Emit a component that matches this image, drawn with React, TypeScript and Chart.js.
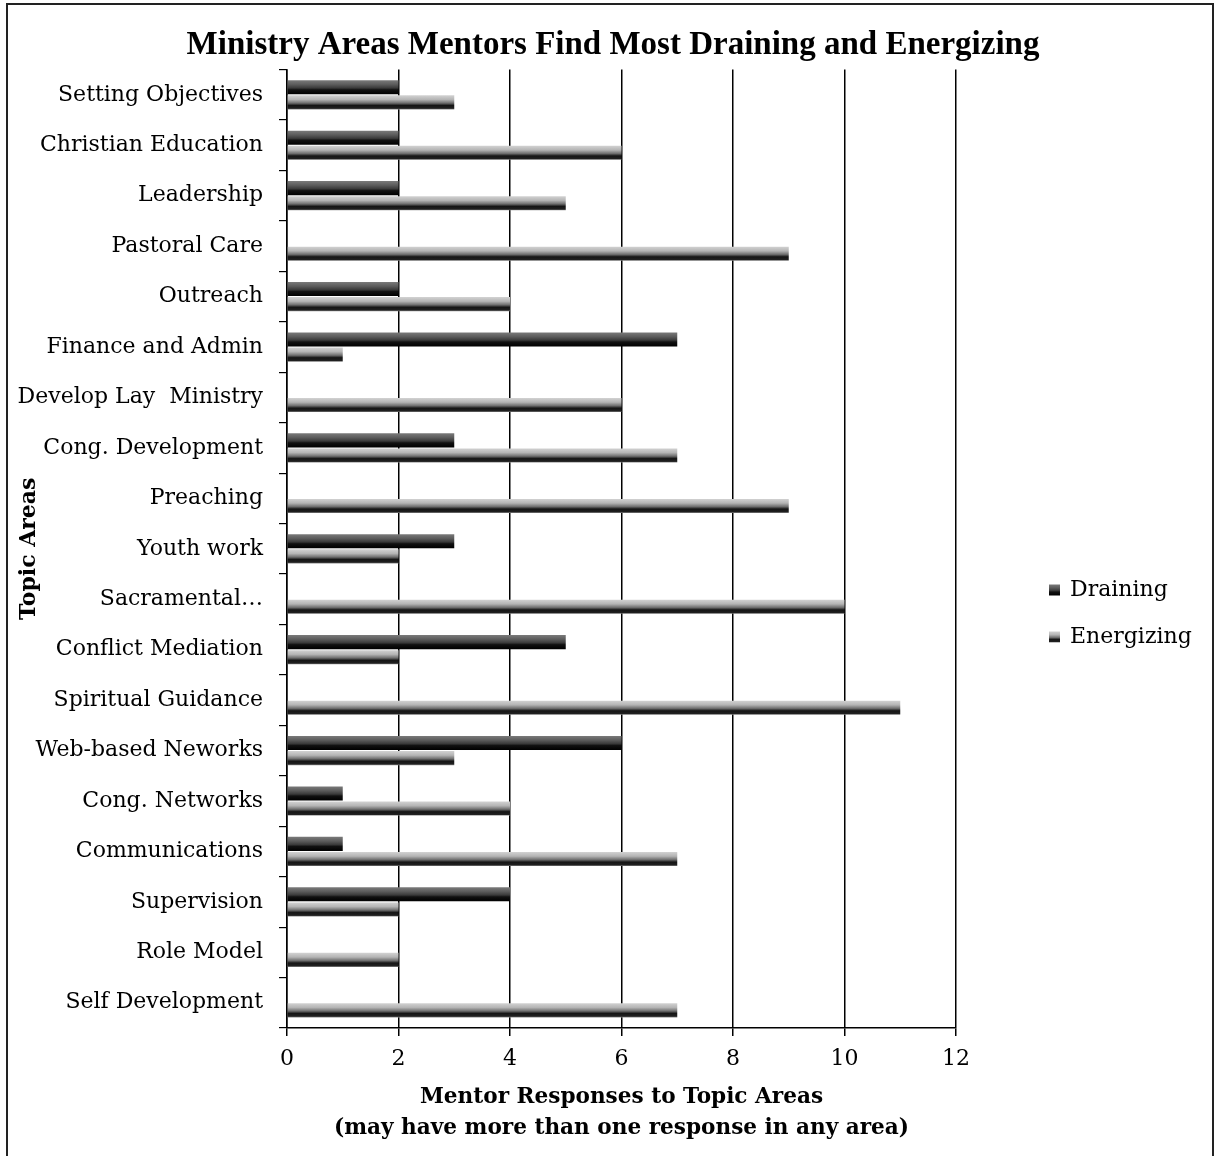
import { useEffect, useRef } from "react";
import { Chart, registerables } from "chart.js";

Chart.register(...registerables);

// Topic areas, top to bottom
const topics = [
  "Setting Objectives",
  "Christian Education",
  "Leadership",
  "Pastoral Care",
  "Outreach",
  "Finance and Admin",
  "Develop Lay  Ministry",
  "Cong. Development",
  "Preaching",
  "Youth work",
  "Sacramental…",
  "Conflict Mediation",
  "Spiritual Guidance",
  "Web-based Neworks",
  "Cong. Networks",
  "Communications",
  "Supervision",
  "Role Model",
  "Self Development",
];

// Mentor responses per topic
const draining = [2, 2, 2, 0, 2, 7, 0, 3, 0, 3, 0, 5, 0, 6, 1, 1, 4, 0, 0];
const energizing = [3, 6, 5, 9, 4, 1, 6, 7, 9, 2, 10, 2, 11, 3, 4, 7, 2, 2, 7];

const xTickValues = [0, 2, 4, 6, 8, 10, 12];

const SERIF = "'DejaVu Serif', serif";
const TITLE_SERIF = "'Liberation Serif', serif";

const CAT_PCT = 0.6;
const BAR_PCT = 0.93;

// vertical shading stops: dark mottled top with black base / light top with black band
const drainingStops: [number, string][] = [
  [0, "#7a7a7a"],
  [0.3, "#5c5c5c"],
  [0.55, "#3a3a3a"],
  [0.68, "#111111"],
  [1, "#000000"],
];
const energizingStops: [number, string][] = [
  [0, "#d2d2d2"],
  [0.3, "#b4b4b4"],
  [0.55, "#6e6e6e"],
  [0.72, "#151515"],
  [0.92, "#202020"],
  [1, "#8a8a8a"],
];

function barFill(stops: [number, string][]) {
  return (c: any) => {
    const chart = c.chart;
    const ys = chart.scales?.y;
    const area = chart.chartArea;
    if (!ys || !area || c.dataIndex === undefined || c.type !== "data") {
      return stops[2][1];
    }
    const center = ys.getPixelForValue(c.dataIndex);
    const band = (area.bottom - area.top) / topics.length;
    const group = band * CAT_PCT;
    const slot = group / 2;
    const thick = slot * BAR_PCT;
    const top = center - group / 2 + c.datasetIndex * slot + (slot - thick) / 2;
    const g = chart.ctx.createLinearGradient(0, top, 0, top + thick);
    stops.forEach(([o, col]) => g.addColorStop(o, col));
    return g;
  };
}

// legend drawn to the right of the plot
const LEGEND_X = 1049;
const LEGEND_Y = 590;
const LEGEND_GAP = 47;
const SWATCH = 11;

const sideLegend = {
  id: "sideLegend",
  afterDraw(chart: any) {
    const ctx = chart.ctx as CanvasRenderingContext2D;
    const stopsList = [drainingStops, energizingStops];
    ctx.save();
    chart.data.datasets.forEach((ds: any, i: number) => {
      const cy = LEGEND_Y + i * LEGEND_GAP;
      const top = cy - SWATCH / 2;
      const g = ctx.createLinearGradient(0, top, 0, top + SWATCH);
      stopsList[i].forEach(([o, col]) => g.addColorStop(o, col));
      ctx.fillStyle = g;
      ctx.fillRect(LEGEND_X, top, SWATCH, SWATCH);
      ctx.fillStyle = "#000";
      ctx.font = `22px ${SERIF}`;
      ctx.textAlign = "left";
      ctx.textBaseline = "middle";
      ctx.fillText(ds.label, LEGEND_X + 21, cy);
    });
    ctx.restore();
  },
};

export default function App() {
  const canvasRef = useRef<HTMLCanvasElement | null>(null);

  useEffect(() => {
    document.body.style.margin = "0";
    const canvas = canvasRef.current;
    if (!canvas) return;
    const chart = new Chart(canvas, {
      type: "bar",
      data: {
        labels: topics,
        datasets: [
          {
            label: "Draining",
            data: draining,
            backgroundColor: barFill(drainingStops),
            borderWidth: 0,
            categoryPercentage: CAT_PCT,
            barPercentage: BAR_PCT,
          },
          {
            label: "Energizing",
            data: energizing,
            backgroundColor: barFill(energizingStops),
            borderWidth: 0,
            categoryPercentage: CAT_PCT,
            barPercentage: BAR_PCT,
          },
        ],
      },
      options: {
        indexAxis: "y",
        responsive: false,
        animation: false,
        events: [],
        layout: { padding: { left: 8, right: 0, top: 0, bottom: 0 } },
        plugins: {
          legend: { display: false },
          tooltip: { enabled: false },
          title: {
            display: true,
            text: "Ministry Areas Mentors Find Most Draining and Energizing",
            color: "#000",
            font: { family: TITLE_SERIF, size: 33, weight: "bold", lineHeight: 1.2 },
            padding: { top: 26, bottom: 4 },
          },
        },
        scales: {
          x: {
            min: 0,
            max: 12,
            afterFit: (s: any) => {
              s.height = 128;
            },
            afterBuildTicks: (s: any) => {
              s.ticks = xTickValues.map((v) => ({ value: v }));
            },
            grid: {
              color: "#000",
              lineWidth: 1.5,
              drawTicks: true,
              tickLength: 8,
            },
            border: { display: true, color: "#000", width: 1.5 },
            ticks: {
              color: "#000",
              font: { family: SERIF, size: 22 },
              padding: 10,
              maxRotation: 0,
            },
            title: {
              display: true,
              text: [
                "Mentor Responses to Topic Areas",
                "(may have more than one response in any area)",
              ],
              color: "#000",
              font: { family: SERIF, size: 21.6, weight: "bold", lineHeight: 1.45 },
              padding: { top: 0, bottom: 12 },
            },
          },
          y: {
            afterFit: (s: any) => {
              s.width = 279;
            },
            grid: {
              display: true,
              drawOnChartArea: false,
              drawTicks: true,
              tickLength: 8,
              color: "#000",
              lineWidth: 1.2,
            },
            border: { display: true, color: "#000", width: 1.5 },
            ticks: {
              color: "#000",
              font: { family: SERIF, size: 22 },
              padding: 16,
              autoSkip: false,
            },
            title: {
              display: true,
              text: "Topic Areas",
              color: "#000",
              font: { family: SERIF, size: 22, weight: "bold", lineHeight: 1.2 },
              padding: { top: 8, bottom: 0 },
            },
          },
          // empty right-hand band that holds the legend area
          legendSpace: {
            type: "linear",
            axis: "y",
            position: "right",
            display: true,
            afterFit: (s: any) => {
              s.width = 262;
            },
            ticks: { display: false },
            grid: { display: false, drawTicks: false },
            border: { display: false },
          },
        },
      },
      plugins: [sideLegend],
    });
    return () => chart.destroy();
  }, []);

  return (
    <div
      style={{
        position: "relative",
        width: 1218,
        height: 1156,
        overflow: "hidden",
        background: "#fff",
      }}
    >
      <canvas
        ref={canvasRef}
        width={1218}
        height={1156}
        style={{ position: "absolute", left: 0, top: 0, width: 1218, height: 1156 }}
      />
      <div
        style={{
          position: "absolute",
          left: 6,
          top: 3,
          width: 1208,
          height: 1180,
          border: "2px solid #222",
          boxSizing: "border-box",
          pointerEvents: "none",
        }}
      />
    </div>
  );
}
